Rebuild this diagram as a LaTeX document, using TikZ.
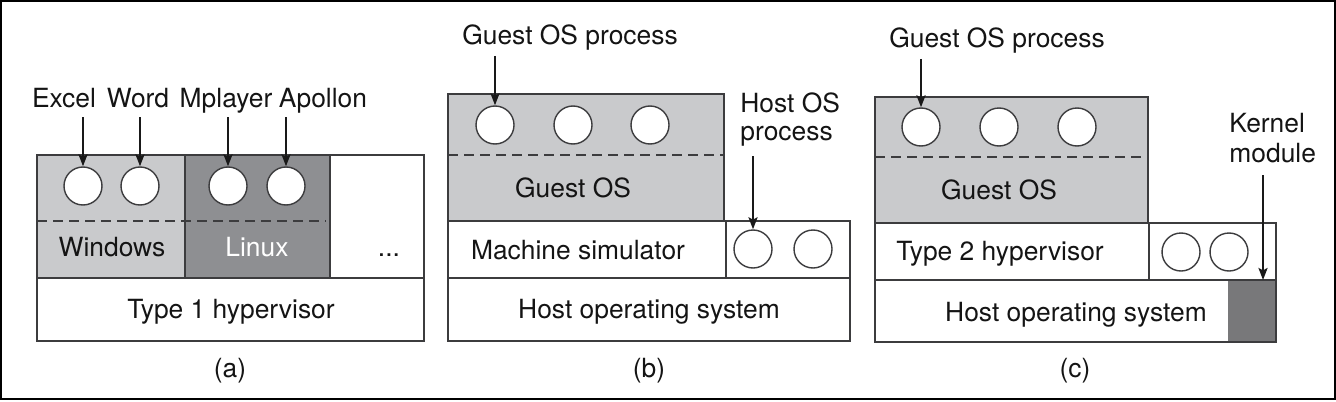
\documentclass[tikz,border=0pt]{standalone}
\usepackage{fontspec}
\setmainfont{TeX Gyre Heros}
\usepackage{xcolor}
\usetikzlibrary{positioning,arrows.meta}

\definecolor{guestgray}{RGB}{201,202,204}
\definecolor{linuxgray}{RGB}{142,143,146}
\definecolor{kernelgray}{RGB}{120,120,122}
\definecolor{edgegray}{RGB}{60,60,62}

\begin{document}
\begin{tikzpicture}[x=0.5pt, y=-0.5pt,
    layer/.style={draw=edgegray, line width=0.75pt},
    proc/.style={draw=edgegray, circle, fill=white, minimum size=19pt, inner sep=0pt, line width=0.7pt},
    lbl/.style={font=\fontsize{13.2}{14}\selectfont, text=black!92, inner sep=1pt, anchor=base},
    sep/.style={draw=edgegray, line width=0.75pt, dash pattern=on 5pt off 3pt},
    pointer/.style={-{Stealth[length=6pt, width=4.5pt, inset=1.2pt]}, line width=1.1pt, black!90},
    >=Stealth]

    \useasboundingbox (0,0) rectangle (1336,401);
    \draw[line width=1pt] (1,1) rectangle (1335,399);

    % (a)
    \fill[guestgray] (37,155) rectangle (185,278);
    \fill[linuxgray] (185,155) rectangle (330,278);
    \draw[layer] (37,155) rectangle (424,278);
    \draw[layer] (185,155) -- (185,278) (330,155) -- (330,278);
    \draw[layer] (37,278) rectangle (424,341);
    \draw[sep] (37,221) -- (326,221);

    \node[proc] (a1) at (83,186) {};
    \node[proc] (a2) at (140,186) {};
    \node[proc] (a3) at (228,186) {};
    \node[proc] (a4) at (286,186) {};

    \node[lbl] (excel) at (64,107) {Excel};
    \node[lbl] (word) at (138,107) {Word};
    \node[lbl] (mplayer) at (226,107) {Mplayer};
    \node[lbl] (apollon) at (323,107) {Apollon};

    \node[lbl] (windows) at (112,256) {Windows};
    \node[lbl, text=white] (linux) at (257,256) {Linux};
    \node[lbl] (dots) at (389,256) {...};
    \node[lbl] (hyp1) at (231,318) {Type 1 hypervisor};
    \node[lbl] (capa) at (230,377) {(a)};

    \draw[pointer, shorten <=5pt] (excel.base -| a1) -- (a1.north);
    \draw[pointer, shorten <=5pt] (word.base -| a2) -- (a2.north);
    \draw[pointer, shorten <=5pt] (mplayer.base -| a3) -- (a3.north);
    \draw[pointer, shorten <=5pt] (apollon.base -| a4) -- (a4.north);

    % (b)
    \fill[guestgray] (448,94) rectangle (724,221);
    \draw[layer] (448,94) rectangle (724,221);
    \draw[sep] (448,155) -- (724,155);
    \draw[layer] (448,221) rectangle (726,278);
    \draw[layer] (726,221) rectangle (850,278);
    \draw[layer] (448,278) rectangle (850,341);

    \node[proc] (b1) at (495,125) {};
    \node[proc] (b2) at (573,125) {};
    \node[proc] (b3) at (650,125) {};
    \node[proc] (b4) at (753,249) {};
    \node[proc] (b5) at (813,249) {};

    \node[lbl] (gproc_b) at (570,45) {Guest OS process};
    \node[lbl, align=left, anchor=north west] (hproc_b) at (738,90) {Host OS\\process};
    \node[lbl] (guest_b) at (573,197) {Guest OS};
    \node[lbl] (sim) at (578,259) {Machine simulator};
    \node[lbl] (host_b) at (649,318) {Host operating system};
    \node[lbl] (capb) at (649,377) {(b)};

    \draw[pointer, shorten <=5.5pt] (gproc_b.base -| b1) -- (b1.north);
    \draw[pointer, shorten <=4pt] (hproc_b.south -| b4) -- (b4.north);

    % (c)
    \fill[guestgray] (875,97) rectangle (1148,223);
    \draw[layer] (875,97) rectangle (1148,223);
    \draw[sep] (875,157) -- (1148,157);
    \draw[layer] (875,223) rectangle (1149,280);
    \draw[layer] (1149,223) rectangle (1276,280);
    \node[fill=kernelgray, minimum width=24pt, minimum height=31pt, inner sep=0pt, anchor=north west] (kmod) at (1228,280) {};
    \draw[layer] (875,280) rectangle (1276,342);
    \coordinate (ktip) at (1263,280);

    \node[proc] (c1) at (921,127) {};
    \node[proc] (c2) at (999,127) {};
    \node[proc] (c3) at (1077,127) {};
    \node[proc] (c4) at (1181,252) {};
    \node[proc] (c5) at (1229,252) {};

    \node[lbl] (gproc_c) at (997,48) {Guest OS process};
    \node[lbl, align=left, anchor=north west] (klbl) at (1227,111) {Kernel\\[1pt]module};
    \node[lbl] (guest_c) at (999,199) {Guest OS};
    \node[lbl] (hyp2) at (1000,260) {Type 2 hypervisor};
    \node[lbl] (host_c) at (1076,321) {Host operating system};
    \node[lbl] (capc) at (1075,377) {(c)};

    \draw[pointer, shorten <=5.5pt] (gproc_c.base -| c1) -- (c1.north);
    \draw[pointer, shorten <=5pt] (klbl.south -| ktip) -- (ktip);

\end{tikzpicture}
\end{document}
